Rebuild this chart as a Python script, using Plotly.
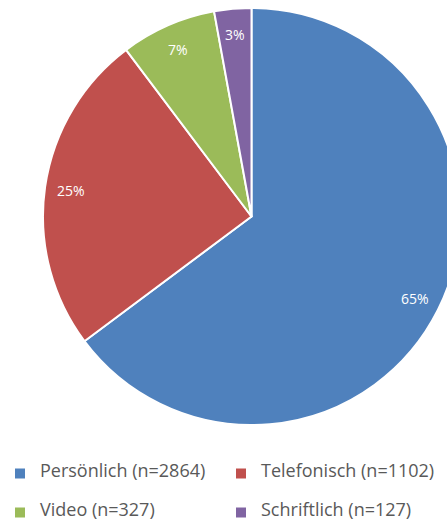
import math
import plotly.graph_objects as go

labels = ["Persönlich (n=2864)", "Telefonisch (n=1102)", "Video (n=327)", "Schriftlich (n=127)"]
values = [2864, 1102, 327, 127]
colors = ["#4F81BD", "#C0504D", "#9BBB59", "#8064A2"]

W, H = 461, 525
cx, cy, r = 251.5, 216.5, 208.5
label_k = 0.875

# legend entries: two empty lines in a small base font widen the row spacing
legend_names = [f" <br> <br><span style='font-size:18px'>{l}</span>" for l in labels]

fig = go.Figure(go.Pie(
    labels=legend_names,
    values=values,
    sort=False,
    direction="clockwise",
    rotation=0,
    marker=dict(colors=colors, line=dict(color="white", width=2)),
    textinfo="none",
    domain=dict(x=[(cx - r) / W, (cx + r) / W], y=[1 - (cy + r) / H, 1 - (cy - r) / H]),
    hoverinfo="skip",
))

total = sum(values)
cum = 0.0
for v in values:
    frac_mid = (cum + v / 2) / total
    cum += v
    th = 2 * math.pi * frac_mid
    x = cx + label_k * r * math.sin(th)
    y = cy - label_k * r * math.cos(th)
    fig.add_annotation(
        x=x / W, y=1 - y / H, xref="paper", yref="paper",
        text=f"{round(100 * v / total)}%", showarrow=False,
        font=dict(family="Open Sans", size=14, color="white"),
        xanchor="center", yanchor="middle",
    )

fig.update_layout(
    width=W, height=H,
    margin=dict(l=0, r=0, t=0, b=0),
    paper_bgcolor="white",
    showlegend=True,
    legend=dict(
        orientation="h",
        x=0, y=0, xanchor="left", yanchor="bottom",
        entrywidth=176, entrywidthmode="pixels",
        valign="bottom",
        font=dict(family="Open Sans", size=9.23, color="#595959"),
        traceorder="normal",
    ),
)

fig.write_html("out.html", config={"displayModeBar": False},
               post_script="document.body.style.margin='0';document.body.style.overflow='hidden';")
